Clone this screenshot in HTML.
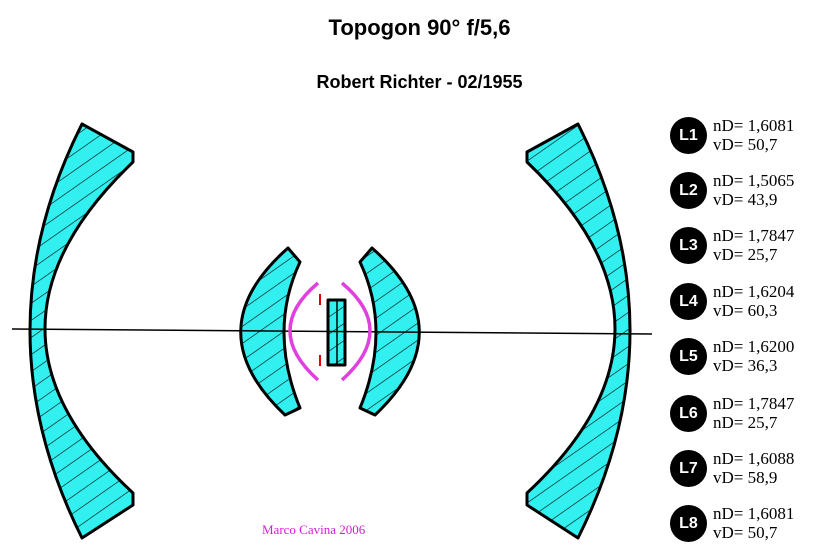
<!DOCTYPE html>
<html><head><meta charset="utf-8"><style>
body{margin:0;background:#fff;width:815px;height:557px;overflow:hidden;position:relative;font-family:"Liberation Sans",sans-serif}
.t{position:absolute;font-weight:bold;text-align:center;width:815px;left:0}
.c{position:absolute;left:670px;width:37px;height:37px;border-radius:50%;background:#000;color:#fff;font:bold 16px "Liberation Sans",sans-serif;line-height:37px;text-align:center}
.v{position:absolute;left:713px;font:17px "Liberation Serif",serif;line-height:19px;color:#000}
</style></head><body>
<div class="t" style="top:15px;font-size:22px;left:12px">Topogon 90° f/5,6</div>
<div class="t" style="top:72px;font-size:18px;left:12px">Robert Richter - 02/1955</div>
<svg width="815" height="557" style="position:absolute;left:0;top:0">
<defs><pattern id="h" width="14" height="14" patternUnits="userSpaceOnUse" patternTransform="rotate(-35)">
<rect width="14" height="14" fill="#33f0f0"/><line x1="0" y1="0" x2="14" y2="0" stroke="#000" stroke-width="1.2"/></pattern></defs>
<g fill="url(#h)" stroke="#000" stroke-width="3" stroke-linejoin="round">
<path d="M82,124 Q-22,330 82,538 L133,505 L133,493 Q-43,330 133,162 L133,152 Z"/>
<path d="M578,124 Q682,330 578,538 L527,505 L527,493 Q703,330 527,162 L527,152 Z"/>
<path d="M288,248 Q195,330 285,415 L300,408 Q268,330 300,262 Z"/>
<path d="M372,248 Q465,330 375,415 L360,408 Q392,330 360,262 Z"/>
<rect x="328" y="300" width="17" height="65"/>
</g>
<line x1="337" y1="300" x2="337" y2="365" stroke="#000" stroke-width="1.5"/>
<line x1="12" y1="329" x2="652" y2="334" stroke="#000" stroke-width="1.5"/>
<g fill="none" stroke="#e040e0" stroke-width="3.5">
<path d="M318,283 Q262,330 318,380"/>
<path d="M342,283 Q398,330 342,380"/>
</g>
<g stroke="#e00000" stroke-width="2"><line x1="320" y1="294" x2="320" y2="305"/><line x1="320" y1="355" x2="320" y2="366"/></g>
<text x="262" y="534" font-family="Liberation Serif,serif" font-size="13" fill="#d020d0">Marco Cavina 2006</text>
</svg>
<div class="c" style="top:117px">L1</div><div class="v" style="top:116px">nD= 1,6081<br>vD= 50,7</div>
<div class="c" style="top:172px">L2</div><div class="v" style="top:171px">nD= 1,5065<br>vD= 43,9</div>
<div class="c" style="top:227px">L3</div><div class="v" style="top:226px">nD= 1,7847<br>vD= 25,7</div>
<div class="c" style="top:283px">L4</div><div class="v" style="top:282px">nD= 1,6204<br>vD= 60,3</div>
<div class="c" style="top:338px">L5</div><div class="v" style="top:337px">nD= 1,6200<br>vD= 36,3</div>
<div class="c" style="top:395px">L6</div><div class="v" style="top:394px">nD= 1,7847<br>nD= 25,7</div>
<div class="c" style="top:450px">L7</div><div class="v" style="top:449px">nD= 1,6088<br>vD= 58,9</div>
<div class="c" style="top:505px">L8</div><div class="v" style="top:504px">nD= 1,6081<br>vD= 50,7</div>
</body></html>
